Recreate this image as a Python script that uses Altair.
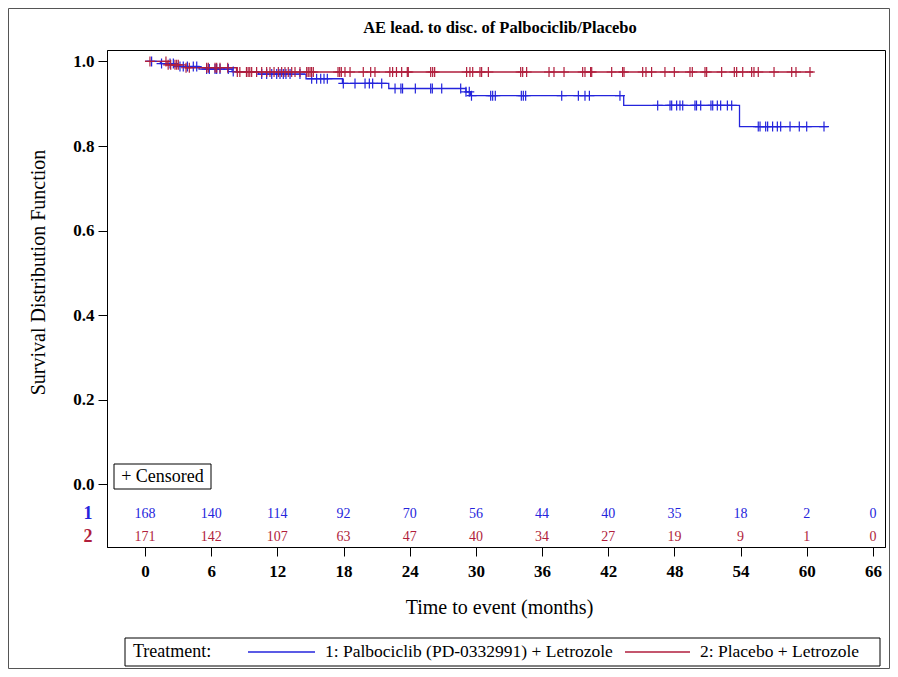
import altair as alt
import pandas as pd
import numpy as np

TITLE = "AE lead. to disc. of Palbociclib/Placebo"
LAB1 = "1: Palbociclib (PD-0332991) + Letrozole"
LAB2 = "2: Placebo + Letrozole"
BLUE = "#2424DC"
RED = "#B01E3C"

# Kaplan-Meier step points (time in months, survival)
blue_t = [0, 1.4, 2.6, 4.9, 7.9, 10.3, 14.6, 17.9, 22.1, 29.1, 29.5, 43.4, 53.9, 61.9]
blue_s = [1.0, 0.995, 0.988, 0.982, 0.976, 0.970, 0.959, 0.948, 0.936, 0.928, 0.919, 0.896, 0.846, 0.846]
red_t = [0, 2.0, 3.7, 8.3, 60.6]
red_s = [1.0, 0.992, 0.985, 0.975, 0.975]

# censoring times
blue_cens = [0.6, 1.5, 2.27, 2.57, 3.17, 3.47, 3.84, 4.38, 4.69, 5.59, 5.83, 6.35, 6.5, 6.8,
             7.55, 8.0, 10.58, 11.03, 11.49, 11.94, 12.24, 12.54, 12.78, 13.15, 14.05, 15.11,
             15.56, 15.93, 16.23, 16.53, 17.98, 19.04, 19.95, 20.34, 20.64, 21.46, 22.67,
             23.2, 23.35, 24.51, 25.9, 26.05, 26.9, 28.62, 29.1, 29.4, 29.6, 31.34, 31.52,
             31.76, 34.12, 34.3, 34.51, 37.78, 39.29, 39.89, 40.29, 43.06, 46.48, 47.6, 47.75,
             48.2, 48.5, 48.75, 49.86, 50.0, 50.38, 51.31, 51.47, 51.89, 52.19, 52.8, 53.19,
             55.6, 55.76, 56.27, 56.45, 56.9, 57.33, 57.63, 58.48, 59.32, 59.99, 61.56]
red_cens = [0.45, 1.9, 2.1, 2.33, 2.72, 2.87, 3.02, 3.72, 4.02, 5.59, 5.74, 6.35, 6.5, 6.8,
            7.5, 8.37, 8.6, 9.2, 9.35, 9.5, 9.67, 10.12, 10.58, 11.03, 11.33, 11.7, 12.09,
            12.39, 12.69, 12.99, 13.3, 13.6, 14.05, 14.66, 14.8, 14.96, 15.1, 15.26, 17.5,
            17.65, 17.8, 18.13, 18.59, 19.79, 20.46, 20.85, 22.2, 22.45, 22.8,
            23.27, 23.78, 23.87, 25.9, 26.08, 26.26, 29.16, 29.46, 29.71, 30.37, 30.52, 31.13,
            34.06, 34.24, 34.6, 36.63, 37.08, 37.99, 39.68, 39.89, 40.4, 40.5, 42.31, 43.3,
            43.43, 45.12, 45.42, 45.93, 47.14, 47.99, 49.41, 49.62, 50.77, 50.92, 52.28, 53.43,
            53.64, 54.19, 55.0, 55.21, 55.6, 57.03, 58.63, 59.02, 60.29]

# numbers at risk
risk_times = [0, 6, 12, 18, 24, 30, 36, 42, 48, 54, 60, 66]
risk_blue = [168, 140, 114, 92, 70, 56, 44, 40, 35, 18, 2, 0]
risk_red = [171, 142, 107, 63, 47, 40, 34, 27, 19, 9, 1, 0]
y_ticks = [0.0, 0.2, 0.4, 0.6, 0.8, 1.0]


def step_lookup(ts, ss, c):
    i = int(np.searchsorted(np.array(ts), c, side="right")) - 1
    return ss[max(i, 0)]


curve = pd.DataFrame({
    "t": blue_t + red_t,
    "s": blue_s + red_s,
    "grp": [LAB1] * len(blue_t) + [LAB2] * len(red_t),
})
cens_b = pd.DataFrame({"t": blue_cens, "s": [step_lookup(blue_t, blue_s, c) for c in blue_cens]})
cens_r = pd.DataFrame({"t": red_cens, "s": [step_lookup(red_t, red_s, c) for c in red_cens]})
risk_b = pd.DataFrame({"t": risk_times, "n": risk_blue})
risk_r = pd.DataFrame({"t": risk_times, "n": risk_red})

SERIF = "Liberation Serif"
W, H = 778, 497
PAD = {"left": 99, "top": 42, "right": 5, "bottom": 122}

xscale = alt.Scale(domain=[-3.445, 67.09], nice=False, zero=False)
yscale = alt.Scale(domain=[-0.148, 1.027], nice=False, zero=False)
xaxis = alt.Axis(values=risk_times, format="d", title="Time to event (months)",
                 tickSize=9, labelPadding=7, labelFontSize=17, labelFontWeight="bold",
                 titleFontSize=20, titleFontWeight="normal", titleY=60, titleX=392,
                 titleBaseline="middle", titleAnchor="middle")
yaxis = alt.Axis(values=y_ticks, format=".1f", title="Survival Distribution Function",
                 tickSize=9, labelPadding=4, labelFontSize=17, labelFontWeight="bold",
                 titleFontSize=20, titleFontWeight="normal", titleX=-69, titleY=222,
                 titleAngle=270, titleAlign="center", titleBaseline="middle")

X = alt.X("t:Q", scale=xscale, axis=xaxis)
Y = alt.Y("s:Q", scale=yscale, axis=yaxis)

plus = "M0,-1L0,1M-1,0L1,0"

lines = alt.Chart(curve).mark_line(interpolate="step-after", strokeWidth=1.3).encode(
    x=X, y=Y,
    color=alt.Color("grp:N", scale=alt.Scale(domain=[LAB1, LAB2], range=[BLUE, RED]), legend=None),
)

pts_b = alt.Chart(cens_b).mark_point(shape=plus, size=100, strokeWidth=1.2, color=BLUE,
                                     filled=False, opacity=1).encode(x=X, y=Y)
pts_r = alt.Chart(cens_r).mark_point(shape=plus, size=100, strokeWidth=1.2, color=RED,
                                     filled=False, opacity=1).encode(x=X, y=Y)

txt_b = alt.Chart(risk_b).mark_text(font=SERIF, fontSize=14, color=BLUE, baseline="middle").encode(
    x=X, y=alt.value(464), text="n:Q")
txt_r = alt.Chart(risk_r).mark_text(font=SERIF, fontSize=14, color=RED, baseline="middle").encode(
    x=X, y=alt.value(487), text="n:Q")

row1 = alt.Chart(pd.DataFrame({"lab": ["1"]})).mark_text(
    font=SERIF, fontSize=18, fontWeight="bold", color=BLUE, baseline="middle").encode(
    x=alt.value(-19), y=alt.value(464), text="lab:N")
row2 = alt.Chart(pd.DataFrame({"lab": ["2"]})).mark_text(
    font=SERIF, fontSize=18, fontWeight="bold", color=RED, baseline="middle").encode(
    x=alt.value(-19), y=alt.value(487), text="lab:N")

one = pd.DataFrame({"lab": ["+ Censored"]})
cbox = alt.Chart(one).mark_rect(fill="white", stroke="black", strokeWidth=1).encode(
    x=alt.value(7), x2=alt.value(104), y=alt.value(414), y2=alt.value(439))
ctxt = alt.Chart(one).mark_text(font=SERIF, fontSize=18, color="black", baseline="middle").encode(
    x=alt.value(55.5), y=alt.value(427), text="lab:N")

# title drawn as a text mark
ttl = alt.Chart(pd.DataFrame({"lab": [TITLE]})).mark_text(
    font=SERIF, fontSize=16.5, fontWeight="bold", color="black", baseline="middle").encode(
    x=alt.value(393), y=alt.value(-22), text="lab:N")

# legend (drawn as annotation)
LY = 602
lbox = alt.Chart(one).mark_rect(fill="white", stroke="black", strokeWidth=1).encode(
    x=alt.value(18), x2=alt.value(773), y=alt.value(588), y2=alt.value(616))
ltitle = alt.Chart(pd.DataFrame({"lab": ["Treatment:"]})).mark_text(
    font=SERIF, fontSize=18, color="black", align="left", baseline="middle").encode(
    x=alt.value(26), y=alt.value(LY), text="lab:N")
lline_b = alt.Chart(one).mark_rule(color=BLUE, strokeWidth=1.3).encode(
    x=alt.value(141), x2=alt.value(208), y=alt.value(LY))
llab_b = alt.Chart(pd.DataFrame({"lab": [LAB1]})).mark_text(
    font=SERIF, fontSize=17.5, color="black", align="left", baseline="middle").encode(
    x=alt.value(218), y=alt.value(LY), text="lab:N")
lline_r = alt.Chart(one).mark_rule(color=RED, strokeWidth=1.3).encode(
    x=alt.value(518), x2=alt.value(583), y=alt.value(LY))
llab_r = alt.Chart(pd.DataFrame({"lab": [LAB2]})).mark_text(
    font=SERIF, fontSize=17.5, color="black", align="left", baseline="middle").encode(
    x=alt.value(593), y=alt.value(LY), text="lab:N")

frame = alt.Chart(one).mark_rect(fill="white", fillOpacity=0, stroke="#555555", strokeWidth=1).encode(
    x=alt.value(-98.5), x2=alt.value(W + PAD["right"] - 0.5),
    y=alt.value(-41.5), y2=alt.value(H + PAD["bottom"] - 0.5))

chart = alt.layer(
    lines, pts_b, pts_r, txt_b, txt_r, row1, row2, cbox, ctxt, ttl,
    lbox, ltitle, lline_b, llab_b, lline_r, llab_r, frame
).properties(
    width=W, height=H,
    autosize=alt.AutoSizeParams(type="none"),
    padding=PAD,
    background="white",
).configure_view(
    stroke="black", strokeWidth=1
).configure_axis(
    grid=False, domainColor="black", tickColor="black", labelColor="black", titleColor="black",
    labelFont=SERIF, titleFont=SERIF, domainWidth=1, tickWidth=1
)

chart.save("out.html", embed_options={"renderer": "svg", "actions": False})
